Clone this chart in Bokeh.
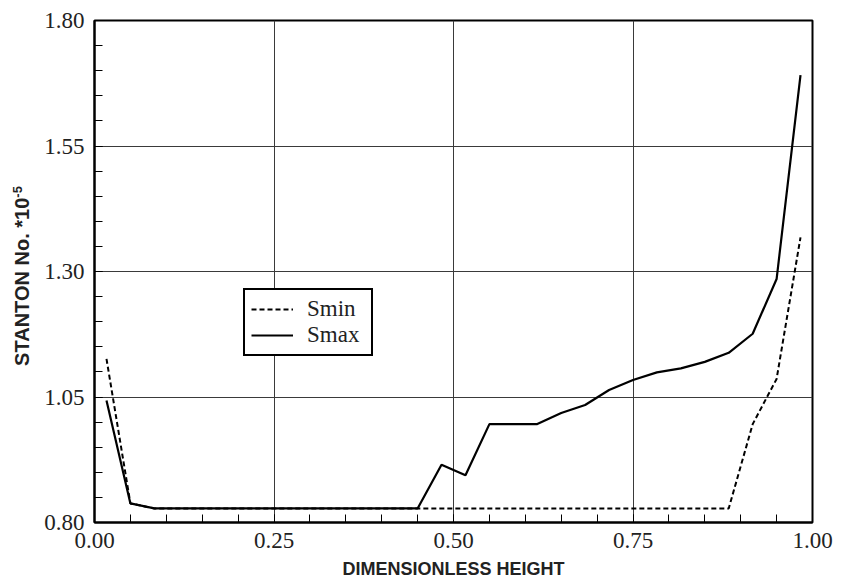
import numpy as np
from bokeh.plotting import figure
from bokeh.models import Range1d, FixedTicker, Legend, LegendItem, Div
from bokeh.layouts import row
from bokeh.embed import file_html
from bokeh.resources import INLINE

# Dimensionless height stations and Stanton number (x 1e-5) at each station
height = [0.0167, 0.0500, 0.0833, 0.1167, 0.1500, 0.1833, 0.2167, 0.2500,
          0.2833, 0.3167, 0.3500, 0.3833, 0.4167, 0.4500, 0.4833, 0.5167,
          0.5500, 0.5833, 0.6167, 0.6500, 0.6833, 0.7167, 0.7500, 0.7833,
          0.8167, 0.8500, 0.8833, 0.9167, 0.9500, 0.9833]

s_min = [1.126, 0.838, 0.828, 0.828, 0.828, 0.828, 0.828, 0.828,
         0.828, 0.828, 0.828, 0.828, 0.828, 0.828, 0.828, 0.828,
         0.828, 0.828, 0.828, 0.828, 0.828, 0.828, 0.828, 0.828,
         0.828, 0.828, 0.828, 0.996, 1.086, 1.368]

s_max = [1.043, 0.838, 0.828, 0.828, 0.828, 0.828, 0.828, 0.828,
         0.828, 0.828, 0.828, 0.828, 0.828, 0.828, 0.915, 0.894,
         0.996, 0.996, 0.996, 1.018, 1.034, 1.064, 1.084, 1.099,
         1.107, 1.120, 1.138, 1.176, 1.285, 1.691]

x_ticks = [0.00, 0.25, 0.50, 0.75, 1.00]
y_ticks = [0.80, 1.05, 1.30, 1.55, 1.80]
x_labels = {0.00: "0.00", 0.25: "0.25", 0.50: "0.50", 0.75: "0.75", 1.00: "1.00"}
y_labels = {0.80: "0.80", 1.05: "1.05", 1.30: "1.30", 1.55: "1.55", 1.80: "1.80"}

# y-axis title with a raised exponent, in a narrow strip left of the plot
y_title = Div(
    text=('<div style="position:relative;width:40px;height:587px;">'
          '<div style="position:absolute;left:20px;top:276px;'
          'transform:translate(-50%,-50%) rotate(-90deg);white-space:nowrap;'
          "font-family:'Liberation Sans';font-weight:bold;font-size:20px;"
          'color:#222222;line-height:22px;">'
          'STANTON No. *10<sup style="font-size:13px;">-5</sup></div></div>'),
    width=40, height=587, margin=0)

p = figure(width=804, height=587, output_backend="svg", toolbar_location=None,
           x_range=Range1d(0.0, 1.0), y_range=Range1d(0.80, 1.80),
           min_border_left=54, min_border_right=32,
           min_border_top=20, min_border_bottom=65, margin=0)
p.background_fill_color = "white"
p.border_fill_color = "white"
p.outline_line_color = "black"
p.outline_line_width = 2
p.outline_line_alpha = 1.0

p.xaxis.ticker = FixedTicker(ticks=x_ticks,
                             minor_ticks=list(np.round(np.arange(0.0, 1.0001, 0.05), 2)))
p.yaxis.ticker = FixedTicker(ticks=y_ticks,
                             minor_ticks=list(np.round(np.arange(0.80, 1.8001, 0.05), 2)))
p.xaxis.major_label_overrides = x_labels
p.yaxis.major_label_overrides = y_labels

for ax in (p.xaxis, p.yaxis):
    ax.axis_line_color = "black"
    ax.axis_line_width = 2
    ax.major_tick_in = 8
    ax.major_tick_out = 0
    ax.minor_tick_in = 8
    ax.minor_tick_out = 0
    ax.major_tick_line_color = "black"
    ax.minor_tick_line_color = "black"
    ax.major_tick_line_width = 1
    ax.minor_tick_line_width = 1
    ax.major_label_text_font = "Liberation Serif"
    ax.major_label_text_font_size = "23px"
    ax.major_label_text_color = "#222222"

p.xaxis.axis_label = "DIMENSIONLESS HEIGHT"
p.xaxis.axis_label_text_font = "Liberation Sans"
p.xaxis.axis_label_text_font_style = "bold"
p.xaxis.axis_label_text_color = "#222222"
p.xaxis.axis_label_text_font_size = "18px"
p.xaxis.major_label_standoff = 10
p.yaxis.major_label_standoff = 10
p.xaxis.axis_label_standoff = 8

# interior grid lines only; the frame itself draws the outer edges
p.xgrid.ticker = FixedTicker(ticks=[0.25, 0.50, 0.75])
p.ygrid.ticker = FixedTicker(ticks=[1.05, 1.30, 1.55])
p.grid.grid_line_color = "#3a3a3a"
p.grid.grid_line_width = 1
p.grid.grid_line_alpha = 1.0

r_min = p.line(height, s_min, line_color="black", line_width=2, line_dash="5 3")
r_max = p.line(height, s_max, line_color="black", line_width=2.2)

legend = Legend(items=[LegendItem(label="Smin", renderers=[r_min]),
                       LegendItem(label="Smax", renderers=[r_max])],
                location=(149, 166), orientation="vertical",
                border_line_color="black", border_line_width=2,
                border_line_alpha=1.0,
                background_fill_color="white", background_fill_alpha=1.0,
                label_text_font="Liberation Serif", label_text_font_size="23px",
                label_text_color="#222222",
                glyph_width=42, glyph_height=20, label_height=20, label_width=58,
                label_standoff=14, spacing=0, padding=6, margin=0)
p.add_layout(legend)

page = row(y_title, p, spacing=0)
open("out.html", "w").write(file_html(page, INLINE))
